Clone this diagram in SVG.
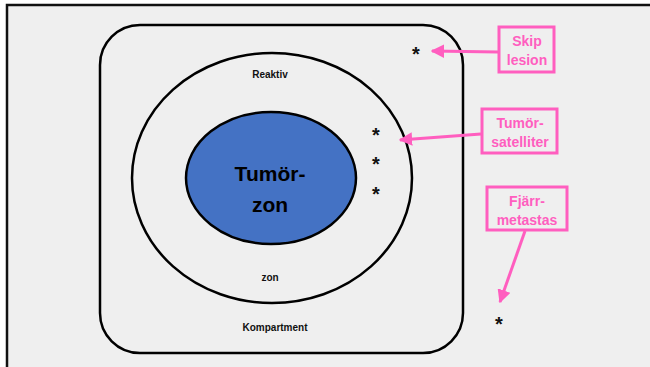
<svg xmlns="http://www.w3.org/2000/svg" width="650" height="367" viewBox="0 0 650 367">
<defs>
<style>
.lbl{font-family:"Liberation Sans",Arial,sans-serif;font-weight:bold;text-anchor:middle;fill:#111}
.big{fill:#000;font-size:21px}
.pk{font-family:"Liberation Sans",Arial,sans-serif;font-weight:bold;text-anchor:middle;fill:#ff5ebf;font-size:14px}
.box{fill:#efefef;stroke:#ff5ebf;stroke-width:3}
.arr{stroke:#ff5ebf;stroke-width:3;fill:none;marker-end:url(#ah)}
.ast{font-family:"Liberation Sans",Arial,sans-serif;font-weight:bold;text-anchor:middle;fill:#111;font-size:20px}
</style>
<marker id="ah" viewBox="0 0 10 10" refX="9" refY="5" markerWidth="4.5" markerHeight="4.5" orient="auto" markerUnits="strokeWidth">
<path d="M0,0 L10,5 L0,10 z" fill="#ff5ebf"/>
</marker>
</defs>
<rect x="0" y="0" width="650" height="367" fill="#ffffff"/>
<rect x="7" y="5" width="660" height="380" fill="#efefef" stroke="#111" stroke-width="2.5"/>
<g id="kompartment">
<rect x="100" y="25" width="363" height="328" rx="40" ry="40" fill="none" stroke="#000" stroke-width="2.5"/>
<text class="lbl" x="275" y="331" font-size="10">Kompartment</text>
</g>
<g id="reaktiv-zon">
<ellipse cx="272" cy="178" rx="140" ry="125" fill="none" stroke="#000" stroke-width="2.5"/>
<text class="lbl" x="270" y="78" font-size="10">Reaktiv</text>
<text class="lbl" x="270" y="281" font-size="10">zon</text>
</g>
<g id="tumorzon">
<ellipse cx="271" cy="178" rx="85" ry="66" fill="#4472c4" stroke="#000" stroke-width="2.5"/>
<text class="lbl big" x="270" y="181">Tumör-</text>
<text class="lbl big" x="270" y="212">zon</text>
</g>
<g id="asterisks">
<text class="ast" x="416" y="61">*</text>
<text class="ast" x="376" y="142">*</text>
<text class="ast" x="376" y="171">*</text>
<text class="ast" x="376" y="201">*</text>
<text class="ast" x="499" y="331">*</text>
</g>
<g id="skip-lesion">
<rect class="box" x="499" y="27" width="55" height="45"/>
<text class="pk" x="527" y="46">Skip</text>
<text class="pk" x="527" y="65">lesion</text>
</g>
<g id="tumorsatelliter">
<rect class="box" x="482" y="109" width="75" height="44"/>
<text class="pk" x="520" y="128">Tumör-</text>
<text class="pk" x="520" y="147">satelliter</text>
</g>
<g id="fjarrmetastas">
<rect class="box" x="487" y="187" width="80" height="43"/>
<text class="pk" x="527" y="206">Fjärr-</text>
<text class="pk" x="527" y="225">metastas</text>
</g>
<g id="connectors">
<line class="arr" x1="498" y1="52" x2="432" y2="51"/>
<line class="arr" x1="481" y1="134" x2="400" y2="140"/>
<line class="arr" x1="525" y1="231" x2="500" y2="302"/>
</g>
</svg>
